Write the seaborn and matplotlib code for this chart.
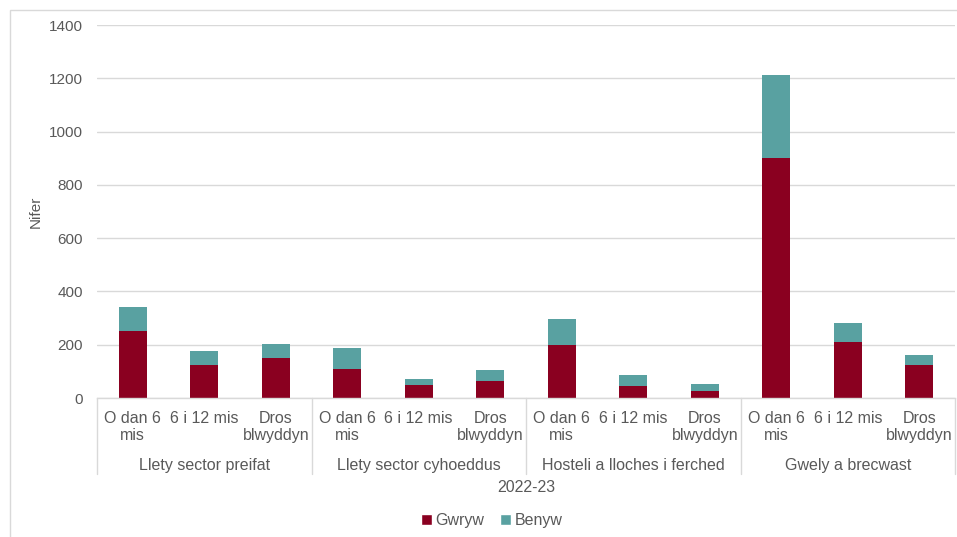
import pandas as pd
import matplotlib.pyplot as plt
import matplotlib.transforms as mtransforms
from matplotlib.patches import Patch, Rectangle
import seaborn as sns

# --- Data ---
groups = ['Llety sector preifat', 'Llety sector cyhoeddus',
          'Hosteli a lloches i ferched', 'Gwely a brecwast']
periods = ['O dan 6\nmis', '6 i 12 mis', 'Dros\nblwyddyn']
gwryw = [250, 125, 150, 108, 47, 63, 198, 44, 27, 902, 209, 123]
benyw = [92, 50, 54, 79, 24, 42, 99, 41, 24, 312, 71, 38]
year_label = '2022-23'

red = '#8A0020'
teal = '#59A1A1'
grey_text = '#595959'
grid_col = '#D9D9D9'

# one row per bar, unique key so repeated period names stay separate
rows = []
for gi, g in enumerate(groups):
    for pi, p in enumerate(periods):
        i = gi * len(periods) + pi
        rows.append({'key': f'{gi}_{pi}', 'group': g, 'period': p,
                     'Gwryw': gwryw[i], 'Benyw': benyw[i],
                     'total': gwryw[i] + benyw[i]})
df = pd.DataFrame(rows)
order = list(df['key'])

sns.set_theme(style='white')
plt.rcParams['font.family'] = ['Liberation Sans', 'DejaVu Sans']

fs = 11.5

fig = plt.figure(figsize=(9.57, 5.37), dpi=100)
ax = fig.add_axes([97 / 957, 1 - 398 / 537, 858 / 957, 373 / 537])

# stacked bars: total in teal, Gwryw drawn over it in red
sns.barplot(data=df, x='key', y='total', order=order, color=teal,
            saturation=1, width=0.39, errorbar=None, ax=ax, linewidth=0)
sns.barplot(data=df, x='key', y='Gwryw', order=order, color=red,
            saturation=1, width=0.39, errorbar=None, ax=ax, linewidth=0)

ax.set_xlim(-0.5, len(order) - 0.5)
ax.set_ylim(0, 1400)
ax.set_yticks(range(0, 1401, 200))
ax.yaxis.grid(True, color=grid_col, linewidth=1)
ax.set_axisbelow(True)
for s in ['left', 'right', 'top']:
    ax.spines[s].set_visible(False)
ax.spines['bottom'].set_color(grid_col)
ax.spines['bottom'].set_linewidth(1)

ax.set_xticks(range(len(order)))
ax.set_xticklabels(list(df['period']), fontsize=fs, color=grey_text,
                   linespacing=1.15, va='top')
ax.tick_params(axis='x', length=0, pad=9.5)
ax.tick_params(axis='y', length=0, pad=10, labelsize=11, labelcolor=grey_text)

ax.set_xlabel('')
ax.set_ylabel('Nifer', fontsize=11, color=grey_text)
ax.yaxis.set_label_coords(-0.063, 0.5)

# group labels and separators beneath the tick labels
trans = mtransforms.blended_transform_factory(ax.transData, ax.transAxes)
n = len(periods)
for gi, g in enumerate(groups):
    centre = gi * n + (n - 1) / 2
    ax.text(centre, -0.182, g, transform=trans, ha='center', va='center',
            fontsize=fs, color=grey_text)
for b in range(len(groups) + 1):
    xb = b * n - 0.5
    ax.plot([xb, xb], [0, -0.204], transform=trans, color=grid_col,
            linewidth=1, clip_on=False)
ax.text(0.5, -0.24, year_label, transform=ax.transAxes, ha='center',
        va='center', fontsize=fs, color=grey_text)

# legend
handles = [Patch(facecolor=red, label='Gwryw'), Patch(facecolor=teal, label='Benyw')]
fig.legend(handles=handles, loc='center', bbox_to_anchor=(492 / 957, 0.03),
           ncol=2, frameon=False, fontsize=fs, handlelength=0.65,
           handleheight=0.65, handletextpad=0.25, columnspacing=1.0,
           labelcolor=grey_text)

# light chart border
fig.patches.append(Rectangle((10 / 957, -0.05), 1.0, 1 - 10 / 537 + 0.05,
                             transform=fig.transFigure, fill=False,
                             edgecolor=grid_col, linewidth=1))

fig.savefig('out.png', dpi=100)
